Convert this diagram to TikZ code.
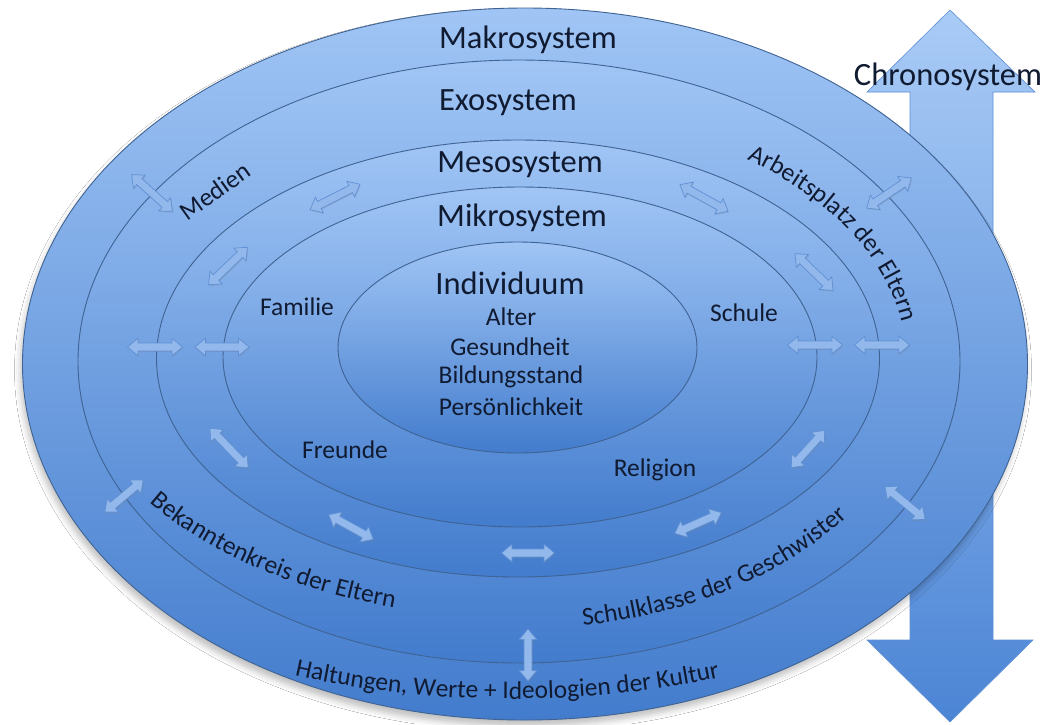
\documentclass[tikz,border=0pt]{standalone}
\usepackage{fontspec}
\setmainfont{Carlito}
\usetikzlibrary{shapes.geometric,shapes.arrows,shadows,shadows.blur,decorations.text}
\definecolor{ringtop}{HTML}{A0C5F5}
\definecolor{ringbot}{HTML}{437CCD}
\definecolor{ringline}{HTML}{3F6393}
\definecolor{arrfill}{HTML}{93B9EC}
\definecolor{arrline}{HTML}{6090D4}
\definecolor{chronotop}{HTML}{A9CBF6}
\definecolor{chronobot}{HTML}{4C85D5}
\definecolor{chronoline}{HTML}{5E8FD6}
\definecolor{txt}{HTML}{101A30}
\newcommand\lblfont{\fontsize{25.5}{30}\selectfont}
\newcommand\ttlfont{\fontsize{32.5}{38}\selectfont}
\begin{document}
\begin{tikzpicture}[x=1pt,y=1pt,
  ring/.style={ellipse, draw=ringline, line width=0.9pt, top color=ringtop, bottom color=ringbot, inner sep=0pt, outer sep=0pt},
  dbl/.style={double arrow, draw=arrline, line width=0.7pt, fill=arrfill,
    inner xsep=0pt, inner ysep=3.6pt, outer sep=0pt, double arrow head extend=4.8pt,
    double arrow tip angle=80, minimum height=#1,
    drop shadow={shadow xshift=0.8pt, shadow yshift=-1.2pt, opacity=0.25}},
  dbl/.default=54,
  title/.style={font=\ttlfont, text=txt, inner sep=0pt},
  lbl/.style={font=\lblfont, text=txt, inner sep=0pt},
  curved/.style={decorate, decoration={text along path, text color=txt, text={|\lblfont|#1}}}
]
\useasboundingbox (0,0) rectangle (1049,-724);
\fill[white] (0,0) rectangle (1049,-724);

% Chronosystem arrow (behind the ellipses)
\draw[draw=chronoline, line width=0.6pt, top color=chronotop, bottom color=chronobot]
  (950,-10) -- (1035,-92) -- (993,-92) -- (993,-640) -- (1033,-640) -- (950,-722)
  -- (867,-640) -- (910,-640) -- (910,-92) -- (867,-92) -- cycle;

% nested systems
\node[ring, minimum width=1005pt, minimum height=712pt,
  blur shadow={shadow xshift=-2pt, shadow yshift=-6pt, shadow blur radius=6pt, shadow opacity=25}]
  (makro) at (525,-364) {};
\node[ring, minimum width=882pt, minimum height=603pt] (exo) at (519,-361.5) {};
\node[ring, minimum width=723pt, minimum height=437pt] (meso) at (518,-358.5) {};
\node[ring, minimum width=594pt, minimum height=340pt] (mikro) at (520,-357) {};
\node[ring, minimum width=359pt, minimum height=211pt] (indiv) at (517.5,-347.5) {};

% double arrows
\node[dbl=55, rotate=-42] (a1) at (152,-193) {};
\node[dbl=56, rotate=27] (a2) at (335,-197) {};
\node[dbl=55, rotate=-29] (a3) at (704,-198) {};
\node[dbl=54, rotate=34] (a4) at (889,-193) {};
\node[dbl=54, rotate=44] (a5) at (228,-266) {};
\node[dbl=53, rotate=-44] (a6) at (814,-272) {};
\node[dbl=55] (a7) at (155,-347) {};
\node[dbl=54] (a8) at (222,-347) {};
\node[dbl=55] (a9) at (815,-345) {};
\node[dbl=55] (a10) at (882,-345) {};
\node[dbl=55, rotate=-46] (a11) at (229,-448) {};
\node[dbl=50, rotate=48] (a12) at (808,-449) {};
\node[dbl=50, rotate=40] (a13) at (124,-496) {};
\node[dbl=52, rotate=-39.5] (a14) at (905,-503) {};
\node[dbl=51, rotate=-29] (a15) at (351,-527) {};
\node[dbl=51, rotate=24] (a16) at (698,-523) {};
\node[dbl=53] (a17) at (528,-553) {};
\node[dbl=52, rotate=90] (a18) at (528,-655) {};

% titles
\node[title] (tmakro) at (528,-40) {Makrosystem};
\node[title] (texo) at (508,-103) {Exosystem};
\node[title] (tmeso) at (520,-165) {Mesosystem};
\node[title] (tmikro) at (522,-218) {Mikrosystem};
\node[title] (tindiv) at (510,-283) {Individuum};
\node[title] (tchrono) at (948,-77) {Chronosystem};

% individual
\node[lbl] (alter) at (511,-317) {Alter};
\node[lbl] (gesund) at (510,-347) {Gesundheit};
\node[lbl] (bildung) at (511,-377) {Bildungsstand};
\node[lbl] (pers) at (511,-407) {Persönlichkeit};

% microsystem
\node[lbl] (familie) at (297,-307) {Familie};
\node[lbl] (schule) at (744,-313) {Schule};
\node[lbl] (freunde) at (345,-450) {Freunde};
\node[lbl] (religion) at (655,-470) {Religion};

% exosystem
\node[lbl, rotate=35.5] (medien) at (215,-191) {Medien};
\path[curved={Arbeitsplatz der Eltern}]
  (520,-360) ++(54:386 and 248) arc[start angle=54, end angle=-15, x radius=386, y radius=248];
\path[curved={Bekanntenkreis der Eltern}]
  (520,-360) ++(213.5:444 and 258) arc[start angle=213.5, end angle=280, x radius=444, y radius=258];
\path[curved={Schulklasse der Geschwister}]
  (520,-360) ++(279:403 and 269) arc[start angle=279, end angle=350, x radius=403, y radius=269];

% macrosystem
\path[curved={Haltungen, Werte + Ideologien der Kultur}]
  (512,-360) ++(248.5:593 and 339) arc[start angle=248.5, end angle=305, x radius=593, y radius=339];
\end{tikzpicture}
\end{document}
